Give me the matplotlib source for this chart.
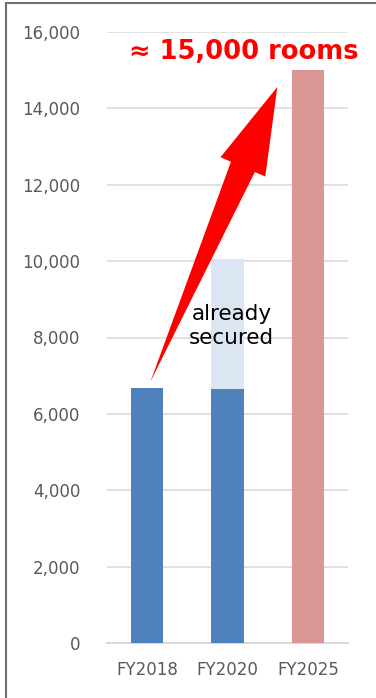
import numpy as np
import matplotlib
matplotlib.use('Agg')
import matplotlib.pyplot as plt
from matplotlib.patches import Polygon, Rectangle
from matplotlib.transforms import IdentityTransform
from matplotlib.ticker import FuncFormatter

# =========================
# DATA
# =========================
years = ["FY2018", "FY2020", "FY2025"]
actual = [6690, 6650, 0]       # rooms in operation
secured = [0, 3400, 0]         # already secured (on top of FY2020)
target = [0, 0, 15000]         # FY2025 goal
yticks = [0, 2000, 4000, 6000, 8000, 10000, 12000, 14000, 16000]
goal_label = "\u2248 15,000 rooms"
secured_label = "already\nsecured"

BLUE = "#4F81BD"
LIGHT = "#DCE6F2"
PINK = "#D99694"
GRID = "#D9D9D9"
TXT = "#595959"

# =========================
# FIGURE
# =========================
W, H = 376, 698
fig = plt.figure(figsize=(W / 100, H / 100), dpi=100)
ax = fig.add_axes([107 / W, (H - 643) / H, 241 / W, 611 / H])

x = np.arange(len(years))
ax.bar(x, actual, width=0.4, color=BLUE, zorder=3)
ax.bar(x, secured, width=0.4, bottom=actual, color=LIGHT, zorder=3)
ax.bar(x, target, width=0.4, color=PINK, zorder=3)

ax.set_xlim(-0.5, 2.5)
ax.set_ylim(0, 16000)
ax.set_yticks(yticks)
ax.yaxis.set_major_formatter(FuncFormatter(lambda v, p: f"{int(v):,}"))
ax.set_xticks(x)
ax.set_xticklabels(years)
ax.grid(axis="y", color=GRID, linewidth=1.1, zorder=0)
for s in ["top", "right", "left"]:
    ax.spines[s].set_visible(False)
ax.spines["bottom"].set_color(GRID)
ax.spines["bottom"].set_linewidth(1.4)
ax.tick_params(axis="y", length=0, pad=19, labelsize=12, labelcolor=TXT)
ax.tick_params(axis="x", length=0, pad=13, labelsize=12, labelcolor=TXT)

# labels
ax.text(1.2, 15480, goal_label, ha="center", va="center", color="#FF0000",
        fontsize=18.5, fontweight="bold", zorder=5)
ax.text(1.05, 8300, secured_label, ha="center", va="center", color="black",
        fontsize=15.5, linespacing=1.25, zorder=5)

# =========================
# TAPERED ARROW (FY2018 -> FY2025)
# =========================
fig.canvas.draw()
tail = ax.transData.transform((0.04, actual[0] + 150))
tip = ax.transData.transform((1.62, 14560))
d = tip - tail
L = np.hypot(*d)
u = d / L
n = np.array([-u[1], u[0]])
head_len, head_half, shaft_half = 87, 24.4, 13
base = tail + u * (L - head_len)
pts = [tail,
       base + n * shaft_half,
       base + n * head_half,
       tip,
       base - n * head_half,
       base - n * shaft_half]
fig.patches.append(Polygon(pts, closed=True, facecolor="#FF0000",
                           edgecolor="none", transform=IdentityTransform(),
                           zorder=6, figure=fig))

# outer frame
fig.patches.append(Rectangle((6 / W, -0.05), 1.2, 1 - 3 / H + 0.05,
                             transform=fig.transFigure, fill=False,
                             edgecolor="#6E6E6E", linewidth=1.5, figure=fig))

fig.savefig("out.png", dpi=100)
